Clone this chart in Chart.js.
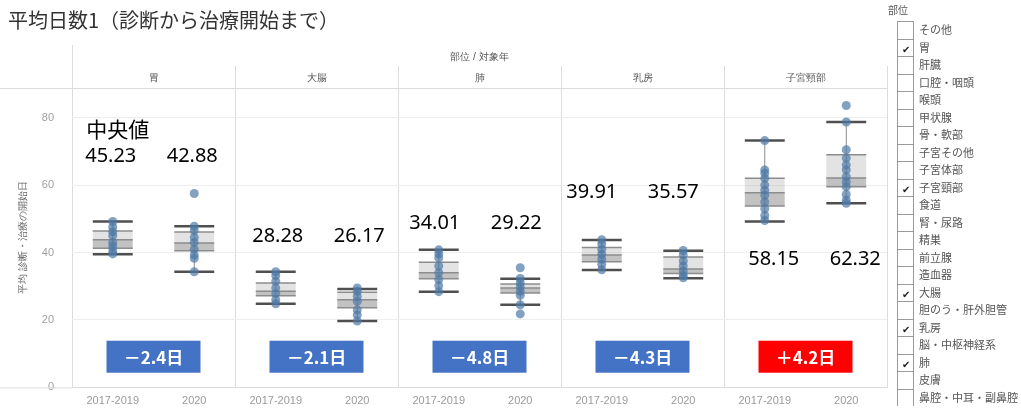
<!DOCTYPE html>
<html>
<head>
<meta charset="utf-8">
<script src="https://cdn.jsdelivr.net/npm/chart.js@4.4.1/dist/chart.umd.min.js"></script>
<style>
  body { margin: 0; background: #fff; overflow: hidden; font-family: "Noto Sans CJK JP", "Noto Sans", sans-serif; }
  #wrap { position: relative; width: 1021px; height: 412px; overflow: hidden; }
  #title { position: absolute; left: 8px; top: 5px; font-size: 20px; color: #333; white-space: nowrap; }
  #filter { position: absolute; left: 888px; top: 0; width: 133px; font-size: 11px; color: #555; }
  #filter .hd { position: absolute; left: 0; top: 2px; font-size: 10px; }
  #filter .row { position: absolute; left: 9px; height: 17.5px; line-height: 17.5px; white-space: nowrap; }
  #filter .cb { display: inline-block; width: 15px; height: 16.5px; border: 1px solid #9a9a9a; border-bottom: none;
    vertical-align: top; margin-right: 5px; text-align: center; font-size: 10px; color: #222; line-height: 17px; }
</style>
</head>
<body>
<div id="wrap">
  <canvas id="c" width="1021" height="412"></canvas>
  <div id="title">平均日数1（診断から治療開始まで）</div>
  <div id="filter"><div class="hd">部位</div></div>
</div>
<script>
// panels and years
const panels = ['胃', '大腸', '肺', '乳房', '子宮頸部'];
const years = ['2017-2019', '2020'];

// box plot values, one per panel/year
const whiskerLow  = [39.5, 34.3, 24.8, 19.7, 28.4, 24.5, 34.8, 32.4, 49.2, 54.6];
const q1          = [41.3, 40.5, 27.2, 23.6, 32.2, 28.0, 37.3, 33.8, 53.8, 59.5];
const median      = [43.8, 42.8, 28.5, 26.0, 34.0, 29.5, 39.3, 35.1, 57.7, 62.1];
const q3          = [46.4, 46.1, 31.0, 28.2, 37.1, 30.7, 41.5, 38.7, 62.0, 69.0];
const whiskerHigh = [49.2, 47.8, 34.3, 29.2, 40.8, 32.2, 43.7, 40.5, 73.2, 78.7];

// individual points
const points = [
  [49.2, 47.6, 46.2, 45.0, 43.0, 41.8, 40.5, 39.6],
  [57.5, 47.8, 46.5, 44.5, 43.0, 41.0, 39.3, 38.3, 34.3],
  [34.3, 33.2, 31.5, 29.5, 27.8, 26.0, 24.8],
  [29.5, 28.5, 27.0, 25.5, 23.0, 21.5, 19.7],
  [40.8, 39.6, 38.4, 36.0, 34.0, 32.0, 30.2, 28.4],
  [35.5, 32.3, 31.0, 29.8, 28.5, 27.3, 24.5, 21.8],
  [43.8, 42.5, 41.0, 39.5, 38.0, 36.5, 34.9],
  [40.6, 39.3, 37.5, 36.0, 34.5, 33.2, 32.5],
  [73.2, 64.5, 63.5, 62.0, 60.0, 58.5, 57.0, 55.0, 53.0, 51.0, 49.5],
  [83.6, 78.7, 70.5, 68.0, 66.0, 64.5, 62.5, 61.0, 59.5, 57.2, 55.5, 54.6]
];

// annotations typed on the picture
const medianNotes = ['45.23', '42.88', '28.28', '26.17', '34.01', '29.22', '39.91', '35.57', '58.15', '62.32'];
const changeNotes = ['－2.4日', '－2.1日', '－4.8日', '－4.3日', '＋4.2日'];

const yTicks = [0, 20, 40, 60, 80];

const filterItems = ['その他', '胃', '肝臓', '口腔・咽頭', '喉頭', '甲状腺', '骨・軟部', '子宮その他', '子宮体部', '子宮頸部',
  '食道', '腎・尿路', '精巣', '前立腺', '造血器', '大腸', '胆のう・肝外胆管', '乳房', '脳・中枢神経系', '肺', '皮膚', '鼻腔・中耳・副鼻腔'];
const checkedItems = ['胃', '子宮頸部', '大腸', '乳房', '肺'];

// filter list on the right
const filter = document.getElementById('filter');
filterItems.forEach((name, i) => {
  const row = document.createElement('div');
  row.className = 'row';
  row.style.top = (21 + i * 17.5) + 'px';
  row.innerHTML = '<span class="cb">' + (checkedItems.includes(name) ? '✔' : '') + '</span>' + name;
  filter.appendChild(row);
});

const labels = panels.flatMap(p => years.map(y => p + '|' + y));
const pointData = points.flatMap((arr, i) => arr.map(v => ({ x: labels[i], y: v })));

// layout of the notes (value units / pixel nudges)
const noteY = [68.4, 44.8, 48.7, 57.9, 38.0];
const noteDx = [-2, 2, -4, -10, 9];
const changeY = 9.1;

const boxLines = {
  id: 'boxLines',
  beforeDatasetDraw(chart, args) {
    if (args.meta.type !== 'scatter') return;
    const { ctx, scales: { x, y } } = chart;
    const bars = chart.getDatasetMeta(0).data;
    ctx.save();
    labels.forEach((l, i) => {
      const cx = x.getPixelForValue(i);
      const hw = bars[i].width / 2;
      ctx.strokeStyle = '#8c8c8c';
      ctx.lineWidth = 1;
      ctx.beginPath();
      ctx.moveTo(cx, y.getPixelForValue(whiskerLow[i]));
      ctx.lineTo(cx, y.getPixelForValue(whiskerHigh[i]));
      ctx.stroke();
      ctx.lineWidth = 1.5;
      [q1[i], median[i], q3[i]].forEach(v => {
        const py = y.getPixelForValue(v);
        ctx.beginPath(); ctx.moveTo(cx - hw, py); ctx.lineTo(cx + hw, py); ctx.stroke();
      });
      ctx.strokeStyle = '#4f4f4f';
      ctx.lineWidth = 2.5;
      [whiskerLow[i], whiskerHigh[i]].forEach(v => {
        const py = y.getPixelForValue(v);
        ctx.beginPath(); ctx.moveTo(cx - hw, py); ctx.lineTo(cx + hw, py); ctx.stroke();
      });
    });
    ctx.restore();
  }
};

const notes = {
  id: 'notes',
  afterDraw(chart) {
    const { ctx, chartArea: a, scales: { x, y, x2 } } = chart;
    ctx.save();
    // frame lines reaching into the header / axis area
    ctx.strokeStyle = '#dcdcdc';
    ctx.lineWidth = 1;
    ctx.beginPath();
    ctx.moveTo(0, a.top + 0.5); ctx.lineTo(a.left, a.top + 0.5);
    ctx.moveTo(0, a.bottom + 0.5); ctx.lineTo(a.left, a.bottom + 0.5);
    ctx.moveTo(a.left + 0.5, 45); ctx.lineTo(a.left + 0.5, a.top - 22);
    ctx.stroke();

    ctx.fillStyle = '#000';
    ctx.textAlign = 'center';
    ctx.textBaseline = 'middle';
    ctx.font = '21px "Noto Sans CJK JP"';
    ctx.fillText('中央値', x.getPixelForValue(0) + 5, y.getPixelForValue(76.7));
    ctx.font = '20px "Noto Sans", "Open Sans", sans-serif';
    medianNotes.forEach((t, i) => {
      const p = Math.floor(i / 2);
      ctx.fillText(t, x.getPixelForValue(i) + noteDx[p], y.getPixelForValue(noteY[p]));
    });

    changeNotes.forEach((t, p) => {
      const cx = x2.getPixelForValue(p);
      const cy = y.getPixelForValue(changeY);
      ctx.fillStyle = t.startsWith('＋') ? '#ff0000' : '#4472c4';
      ctx.fillRect(cx - 47, cy - 16, 94, 32);
      ctx.fillStyle = '#fff';
      ctx.font = 'bold 17px "Noto Sans CJK JP"';
      ctx.fillText(t, cx, cy + 1);
    });
    ctx.restore();
  }
};

new Chart(document.getElementById('c'), {
  type: 'bar',
  data: {
    labels: labels,
    datasets: [
      {
        label: 'lower box',
        data: q1.map((v, i) => [v, median[i]]),
        backgroundColor: 'rgba(120,120,120,0.45)',
        grouped: false, barPercentage: 0.49, categoryPercentage: 1, order: 2
      },
      {
        label: 'upper box',
        data: median.map((v, i) => [v, q3[i]]),
        backgroundColor: 'rgba(170,170,170,0.33)',
        grouped: false, barPercentage: 0.49, categoryPercentage: 1, order: 1
      },
      {
        type: 'scatter',
        label: 'points',
        data: pointData,
        backgroundColor: 'rgba(78,121,167,0.7)',
        borderWidth: 0,
        pointRadius: 4.5,
        order: 0
      }
    ]
  },
  options: {
    responsive: false,
    animation: false,
    layout: { padding: { top: 36, right: 134, left: 0, bottom: 0 } },
    plugins: { legend: { display: false }, tooltip: { enabled: false } },
    scales: {
      x: {
        grid: { display: false, drawTicks: false },
        border: { color: '#dcdcdc' },
        ticks: {
          color: '#9a9a9a', font: { size: 11 }, padding: 7, autoSkip: false, maxRotation: 0,
          callback: function (v) { return this.getLabelForValue(v).split('|')[1]; }
        },
        afterFit(s) { s.height = 24; }
      },
      x2: {
        type: 'category',
        labels: panels,
        position: 'top',
        offset: true,
        grid: { offset: true, color: '#dcdcdc', tickColor: '#dcdcdc', tickLength: 22 },
        border: { color: '#dcdcdc' },
        ticks: { color: '#555', font: { size: 10 }, padding: -18, autoSkip: false, maxRotation: 0 },
        title: { display: true, text: '部位 / 対象年', color: '#555', font: { size: 10 }, padding: { top: 15, bottom: 0 } },
        afterFit(s) { s.height = 52; }
      },
      y: {
        min: 0, max: 88.8,
        afterBuildTicks(s) { s.ticks = yTicks.map(v => ({ value: v })); },
        grid: { color: '#eeeeee', drawTicks: false },
        border: { display: false },
        ticks: { color: '#a0a0a0', font: { size: 11 }, padding: 18 },
        title: { display: true, text: '平均 診断・治療の開始日', color: '#666', font: { size: 10 }, padding: { top: 17, bottom: 0 } },
        afterFit(s) { s.width = 72; }
      }
    }
  },
  plugins: [boxLines, notes]
});
</script>
</body>
</html>
